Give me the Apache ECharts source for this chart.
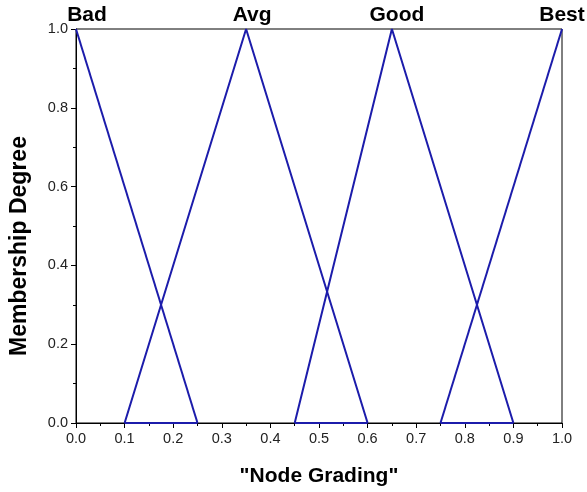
<!DOCTYPE html>
<html>
<head>
<meta charset="utf-8">
<script src="https://cdn.jsdelivr.net/npm/echarts@6/dist/echarts.min.js"></script>
<style>
  html, body { margin: 0; padding: 0; background: #fff; }
  #chart { width: 587px; height: 492px; }
</style>
</head>
<body>
<div id="chart"></div>
<script>
// Membership functions of the node grading fuzzy sets
const setNames = ['Bad', 'Avg', 'Good', 'Best'];
const badPoints  = [[0, 1], [0.25, 0]];
const avgPoints  = [[0.1, 0], [0.35, 1], [0.6, 0]];
const goodPoints = [[0.45, 0], [0.65, 1], [0.9, 0]];
const bestPoints = [[0.75, 0], [1, 1]];
// Base segments where neighbouring sets overlap
const overlapSegments = [[0.1, 0.25], [0.45, 0.6], [0.75, 0.9]];
// Peak position of each set (where its name is written)
const peakX = [0, 0.35, 0.65, 1];

const lineColor = '#1c1cab';
const font = 'Liberation Sans, Arial, sans-serif';
const labelShift = [11, 6, 5, 0];

function lineSeries(name, data) {
  return {
    name: name, type: 'line', data: data, symbol: 'none',
    lineStyle: { color: lineColor, width: 2 }, z: 3, animation: false
  };
}

const series = [
  lineSeries('Bad', badPoints),
  lineSeries('Avg', avgPoints),
  lineSeries('Good', goodPoints),
  lineSeries('Best', bestPoints)
];
overlapSegments.forEach((seg, i) => {
  series.push(lineSeries('overlap' + i, [[seg[0], 0], [seg[1], 0]]));
});
series.push({
  type: 'scatter', symbolSize: 0, animation: false, silent: true,
  itemStyle: { opacity: 1 },
  data: peakX.map((x, i) => ({
    value: [x, 1],
    label: {
      show: true, position: 'top', formatter: setNames[i], distance: 3,
      offset: [labelShift[i], 0], opacity: 1,
      fontFamily: font, fontWeight: 'bold', fontSize: 21, color: '#000'
    }
  }))
});

const chart = echarts.init(document.getElementById('chart'), null, { renderer: 'canvas' });
chart.setOption({
  backgroundColor: '#fff',
  animation: false,
  grid: {
    left: 76, right: 25, top: 29, bottom: 68,
    show: true, borderColor: '#000', borderWidth: 1, backgroundColor: 'transparent'
  },
  xAxis: {
    type: 'value', min: 0, max: 1, interval: 0.1,
    name: '"Node Grading"', nameLocation: 'middle', nameGap: 43,
    nameTextStyle: { fontFamily: font, fontWeight: 'bold', fontSize: 21, color: '#000' },
    axisLine: { show: true, lineStyle: { color: '#000', width: 1 } },
    axisTick: { show: true, length: 5, inside: false, lineStyle: { color: '#000' } },
    minorTick: { show: true, splitNumber: 2, length: 3, lineStyle: { color: '#000' } },
    axisLabel: { fontFamily: font, fontSize: 14.5, color: '#222', margin: 8,
                 formatter: v => v.toFixed(1) },
    splitLine: { show: false }
  },
  yAxis: {
    type: 'value', min: 0, max: 1, interval: 0.2,
    name: 'Membership Degree', nameLocation: 'middle', nameGap: 45,
    nameTextStyle: { fontFamily: font, fontWeight: 'bold', fontSize: 23, color: '#000',
                     padding: [0, 40, 0, 0] },
    axisLine: { show: true, lineStyle: { color: '#000', width: 1 } },
    axisTick: { show: true, length: 5, inside: false, lineStyle: { color: '#000' } },
    minorTick: { show: true, splitNumber: 2, length: 3, lineStyle: { color: '#000' } },
    axisLabel: { fontFamily: font, fontSize: 14.5, color: '#222', margin: 8,
                 formatter: v => v.toFixed(1) },
    splitLine: { show: false }
  },
  series: series
});
</script>
</body>
</html>
